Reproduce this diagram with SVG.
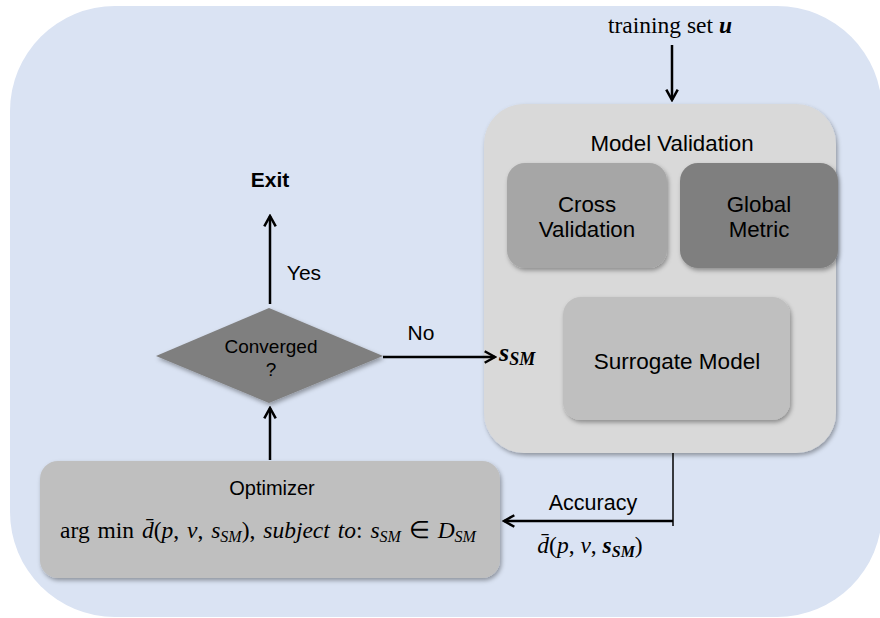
<svg xmlns="http://www.w3.org/2000/svg" width="880" height="618" viewBox="0 0 880 618">
<style>
  .sans { font-family: "Liberation Sans", Arial, sans-serif; fill: #000; }
  .serif { font-family: "Liberation Serif", "Times New Roman", serif; fill: #000; }
  .conn { stroke: #000; stroke-width: 2.5; fill: none; }
  .it { font-style: italic; }
  .bi { font-style: italic; font-weight: bold; }
</style>
<defs>
  <marker id="arr" viewBox="0 0 12 12" refX="10" refY="6" markerWidth="5.5" markerHeight="5.5" orient="auto" markerUnits="strokeWidth">
    <path d="M1,1 L10,6 L1,11" fill="none" stroke="#000" stroke-width="2.2"/>
  </marker>
  <filter id="sh" x="-10%" y="-10%" width="125%" height="130%">
    <feDropShadow dx="1.5" dy="2.5" stdDeviation="2" flood-color="#000" flood-opacity="0.35"/>
  </filter>
</defs>

<rect id="background" x="10" y="6" width="872" height="611" rx="105" ry="105" fill="#dae3f3"/>

<g id="model-validation">
  <rect x="484" y="104" width="352" height="349" rx="40" fill="#d9d9d9" filter="url(#sh)"/>
  <text class="sans" x="672" y="151" font-size="22.3" text-anchor="middle">Model Validation</text>
</g>

<g id="cross-validation">
  <rect x="507" y="163" width="160" height="105" rx="18" fill="#a6a6a6" filter="url(#sh)"/>
  <text class="sans" x="587" y="212" font-size="22.3" text-anchor="middle">Cross</text>
  <text class="sans" x="587" y="237" font-size="22.3" text-anchor="middle">Validation</text>
</g>

<g id="global-metric">
  <rect x="680" y="163" width="158" height="105" rx="18" fill="#7f7f7f" filter="url(#sh)"/>
  <text class="sans" x="759" y="212" font-size="22.3" text-anchor="middle">Global</text>
  <text class="sans" x="759" y="237" font-size="22.3" text-anchor="middle">Metric</text>
</g>

<g id="surrogate-model">
  <rect x="563" y="297" width="227" height="123" rx="18" fill="#bfbfbf" filter="url(#sh)"/>
  <text class="sans" x="677" y="369" font-size="22.5" text-anchor="middle">Surrogate Model</text>
</g>

<g id="converged">
  <polygon points="269,308 383,356 269,403 156,356" fill="#7f7f7f" filter="url(#sh)"/>
  <text class="sans" x="271" y="353" font-size="19" text-anchor="middle">Converged</text>
  <text class="sans" x="271" y="376" font-size="19" text-anchor="middle">?</text>
</g>

<g id="exit">
  <text class="sans" x="270" y="187" font-size="21" font-weight="bold" text-anchor="middle">Exit</text>
</g>

<g id="optimizer">
  <rect x="40" y="461" width="460" height="117" rx="18" fill="#bfbfbf" filter="url(#sh)"/>
  <text class="sans" x="272" y="495" font-size="20" text-anchor="middle">Optimizer</text>
  <text class="serif" x="268" y="538" font-size="23.5" word-spacing="2" text-anchor="middle">arg min <tspan class="it">d̄</tspan>(<tspan class="it">p</tspan>, <tspan class="it">v</tspan>, <tspan class="it">s</tspan><tspan class="it" font-size="16" dy="4">SM</tspan><tspan dy="-4">), </tspan><tspan class="it">subject to</tspan>: <tspan class="it">s</tspan><tspan class="it" font-size="16" dy="4">SM</tspan><tspan dy="-4"> ∈ </tspan><tspan class="it">D</tspan><tspan class="it" font-size="16" dy="4">SM</tspan></text>
</g>

<g id="connectors">
  <line class="conn" x1="672" y1="45" x2="672" y2="100" marker-end="url(#arr)"/>
  <line class="conn" x1="270" y1="304" x2="270" y2="216" marker-end="url(#arr)"/>
  <line class="conn" x1="270" y1="460" x2="270" y2="408" marker-end="url(#arr)"/>
  <line class="conn" x1="383" y1="357" x2="495" y2="357" marker-end="url(#arr)"/>
  <polyline fill="none" stroke="#000" stroke-width="1.5" points="673,453 673,526"/>
  <line class="conn" x1="673" y1="521" x2="504" y2="521" marker-end="url(#arr)"/>
</g>

<g id="labels">
  <text class="serif" x="670" y="33" font-size="23.5" text-anchor="middle">training set <tspan class="bi">u</tspan></text>
  <text class="sans" x="304" y="280" font-size="21" text-anchor="middle">Yes</text>
  <text class="sans" x="421" y="340" font-size="21" text-anchor="middle">No</text>
  <text class="serif" x="499" y="361" font-size="26"><tspan class="bi">s</tspan><tspan class="bi" font-size="18" dy="4">SM</tspan></text>
  <text class="sans" x="593" y="510" font-size="21.5" text-anchor="middle">Accuracy</text>
  <text class="serif" x="590" y="553" font-size="23.5" text-anchor="middle"><tspan class="it">d̄</tspan>(<tspan class="it">p</tspan>, <tspan class="it">v</tspan>, <tspan class="bi">s</tspan><tspan class="bi" font-size="16" dy="4">SM</tspan><tspan dy="-4">)</tspan></text>
</g>
</svg>
